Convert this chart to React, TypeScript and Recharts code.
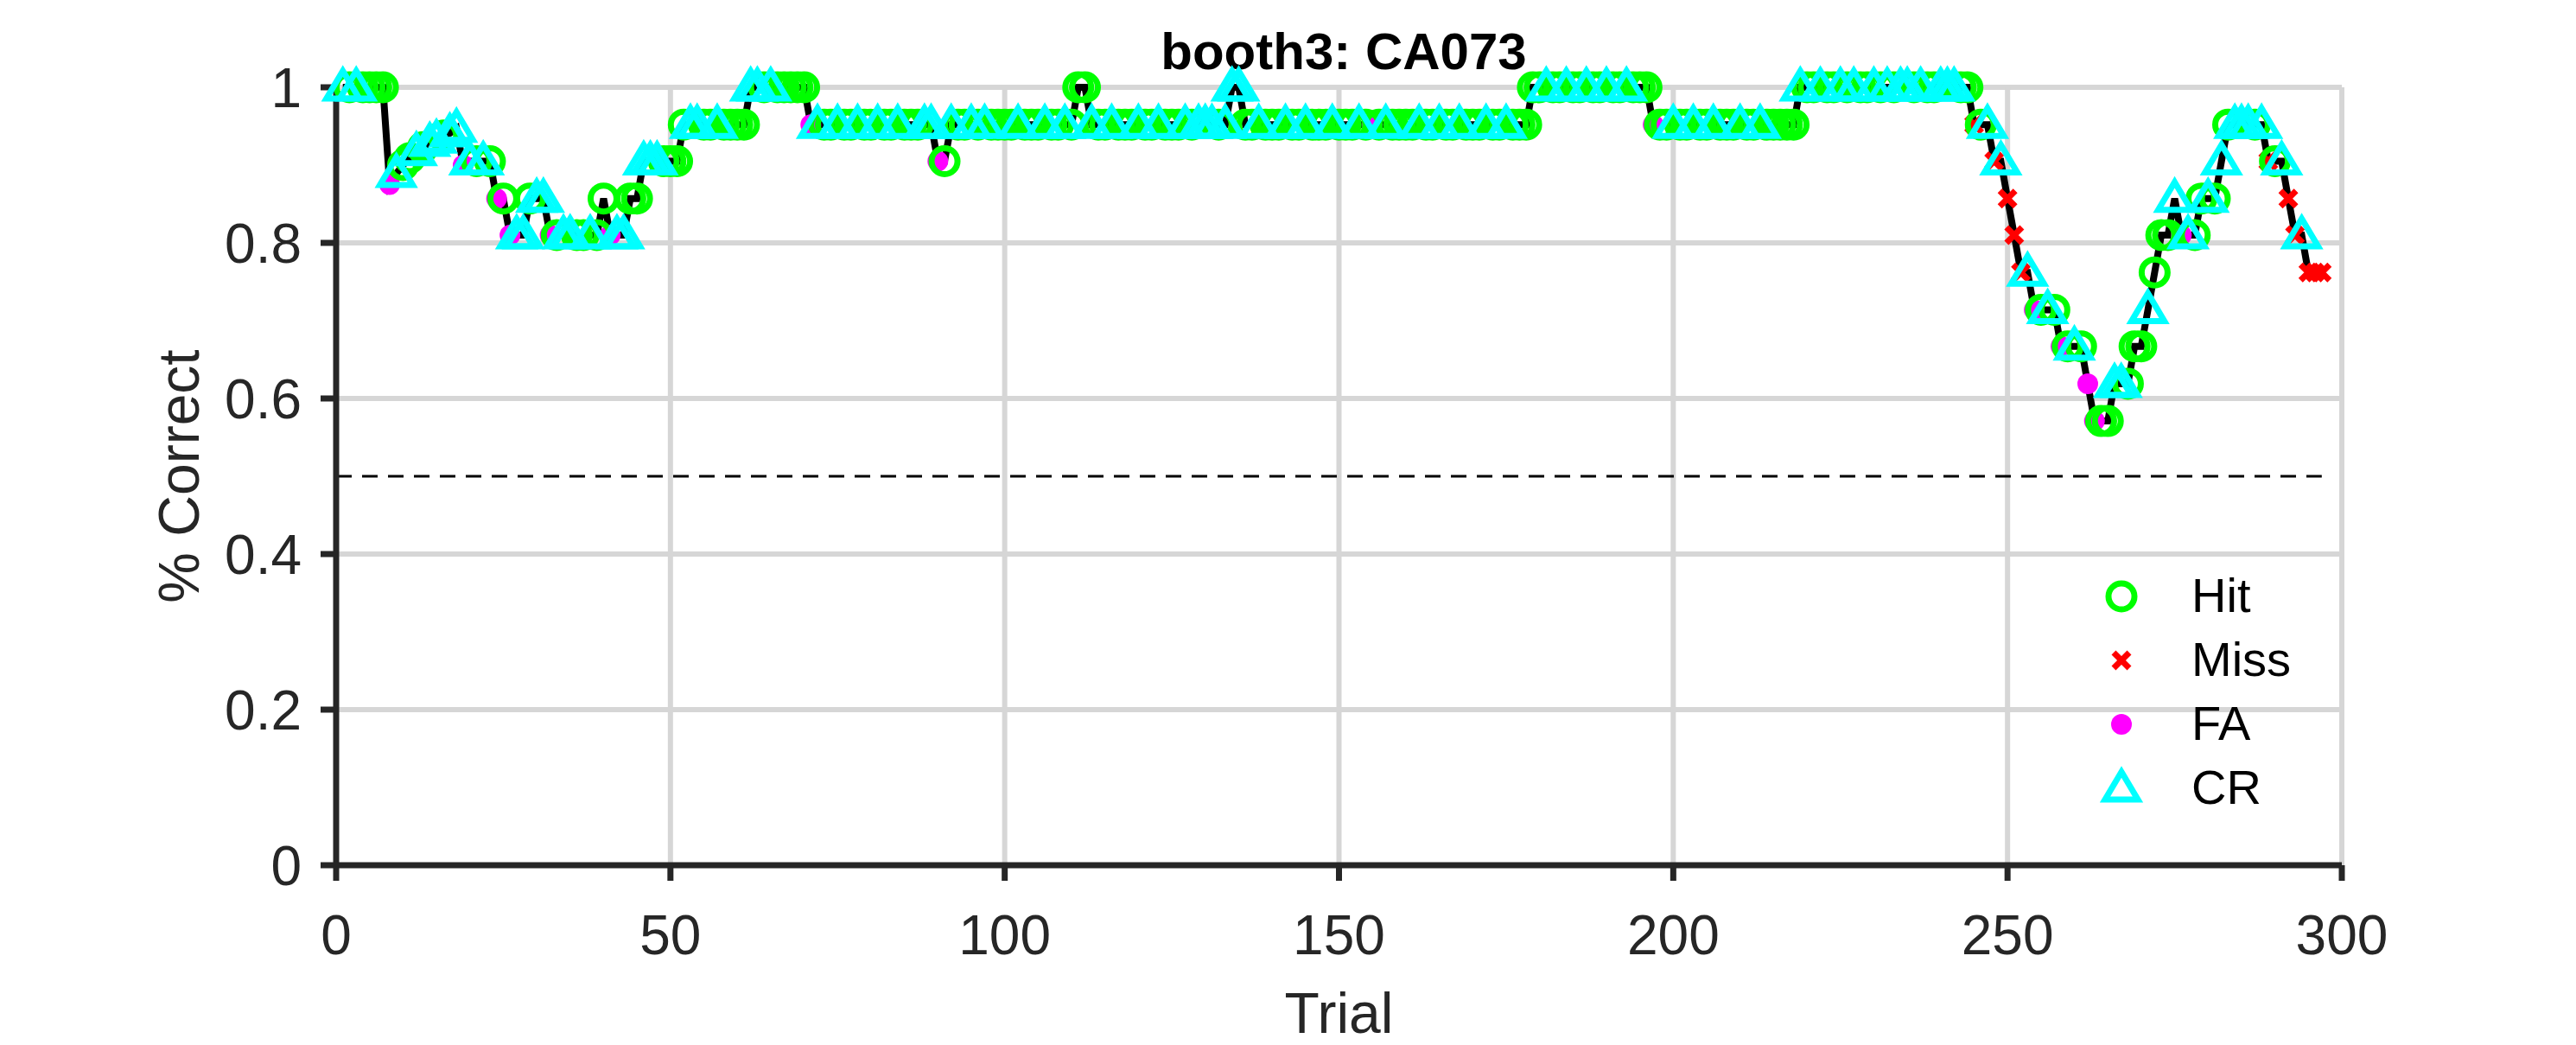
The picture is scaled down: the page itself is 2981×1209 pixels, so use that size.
import React from 'react'
import { ComposedChart, Line, XAxis, YAxis, CartesianGrid, ReferenceLine } from 'recharts'

// running % correct, one value per trial (1..297)
const pctCorrect = [
  1, 1, 1, 1, 1, 1, 1, .875, .889, .9,
  .909, .917, .923, .929, .933, .938, .941, .947, .9, .905,
  .905, .905, .905, .857, .857, .81, .81, .81, .857, .857,
  .857, .81, .81, .81, .81, .81, .81, .81, .81, .857,
  .81, .81, .81, .857, .857, .905, .905, .905, .905, .905,
  .905, .952, .952, .952, .952, .952, .952, .952, .952, .952,
  .952, 1, 1, 1, 1, 1, 1, 1, 1, 1,
  .952, .952, .952, .952, .952, .952, .952, .952, .952, .952,
  .952, .952, .952, .952, .952, .952, .952, .952, .952, .905,
  .905, .952, .952, .952, .952, .952, .952, .952, .952, .952,
  .952, .952, .952, .952, .952, .952, .952, .952, .952, .952,
  1, 1, .952, .952, .952, .952, .952, .952, .952, .952,
  .952, .952, .952, .952, .952, .952, .952, .952, .952, .952,
  .952, .952, .952, 1, 1, .952, .952, .952, .952, .952,
  .952, .952, .952, .952, .952, .952, .952, .952, .952, .952,
  .952, .952, .952, .952, .952, .952, .952, .952, .952, .952,
  .952, .952, .952, .952, .952, .952, .952, .952, .952, .952,
  .952, .952, .952, .952, .952, .952, .952, .952, 1, 1,
  1, 1, 1, 1, 1, 1, 1, 1, 1, 1,
  1, 1, 1, 1, 1, 1, .952, .952, .952, .952,
  .952, .952, .952, .952, .952, .952, .952, .952, .952, .952,
  .952, .952, .952, .952, .952, .952, .952, .952, 1, 1,
  1, 1, 1, 1, 1, 1, 1, 1, 1, 1,
  1, 1, 1, 1, 1, 1, 1, 1, 1, 1,
  1, 1, 1, 1, .952, .952, .952, .905, .905, .857,
  .81, .762, .762, .714, .714, .714, .714, .667, .667, .667,
  .667, .619, .571, .571, .571, .619, .619, .619, .667, .667,
  .714, .762, .81, .81, .857, .81, .81, .81, .857, .857,
  .857, .905, .952, .952, .952, .952, .952, .952, .905, .905,
  .905, .857, .81, .81, .762, .762, .762,
]

// outcome per trial: H = hit, M = miss, F = false alarm, C = correct rejection
const outcomes = [
  'CHCHHHHFCH', 'HCHCCHCCFC', 'HCHFHFCCHC', 'CFHCCHHCHH', 'FCCHHCCCHH',
  'HHCCHHCHHH', 'HCCHCHHHHH', 'FCHHCHHCHH', 'CHHCHHHCCF', 'HCHHCHCHHH',
  'HCHHHCHHCH', 'HHCHHCHHHC', 'HHCHHHCHCC', 'CHCCCHHCHH', 'HCHHCHHHCH',
  'HHCHFHCHHH', 'HCHHCHHCHH', 'HCHHCHHHHH', 'CHHCHHCHHC', 'HHCHHHFHHC',
  'HHCHHCHHHC', 'HHCHHHHHCH', 'HCHHCHCHHC', 'HCHCCHCHHC', 'CCHHMHCMCM',
  'MMCFHCHFHC', 'HFFHHCCHHH', 'CHHHCFCHHC', 'HCHCCCHCMH', 'CMMCMMM',
].join('').split('')

const rows = pctCorrect.map((v, i) => {
  const t = outcomes[i]
  return {
    trial: i + 1, pct: v,
    hit: t === 'H' ? v : null, miss: t === 'M' ? v : null,
    fa: t === 'F' ? v : null, cr: t === 'C' ? v : null,
  }
})

const xTicks = [0, 50, 100, 150, 200, 250, 300]
const yTicks = [0, 0.2, 0.4, 0.6, 0.8, 1]

const FONT = 'Liberation Sans, Arial, sans-serif'
const AX = '#262626'

function HitMark({ cx, cy }: { cx: number; cy: number }) {
  return <circle cx={cx} cy={cy} r={15} fill="none" stroke="#00ff00" strokeWidth={7} />
}
function MissMark({ cx, cy }: { cx: number; cy: number }) {
  const d = 9
  return <path d={`M${cx - d},${cy - d}L${cx + d},${cy + d}M${cx - d},${cy + d}L${cx + d},${cy - d}`} stroke="#ff0000" strokeWidth={7} />
}
function FaMark({ cx, cy }: { cx: number; cy: number }) {
  return <circle cx={cx} cy={cy} r={12} fill="#ff00ff" />
}
function CrMark({ cx, cy }: { cx: number; cy: number }) {
  return <path d={`M${cx},${cy - 19}L${cx + 19},${cy + 13}L${cx - 19},${cy + 13}Z`} fill="none" stroke="#00ffff" strokeWidth={7} strokeLinejoin="miter" />
}

const marks: Record<string, any> = { hit: HitMark, miss: MissMark, fa: FaMark, cr: CrMark }

const dotFor = (key: string) => (p: any) => {
  if (p.value == null || p.cy == null) return <g key={p.index} />
  const M = marks[key]
  return <M key={p.index} cx={p.cx} cy={p.cy} />
}

const legendItems = [
  { key: 'hit', label: 'Hit' },
  { key: 'miss', label: 'Miss' },
  { key: 'fa', label: 'FA' },
  { key: 'cr', label: 'CR' },
]

export default function App() {
  return (
    <div style={{ position: 'relative', width: 2965, height: 1193, background: '#fff', fontFamily: FONT }}>
      <ComposedChart width={2965} height={1193} data={rows} margin={{ top: 93, right: 263, left: 261, bottom: 0 }}>
        <CartesianGrid stroke="#d6d6d6" strokeWidth={6} vertical horizontal />
        <XAxis dataKey="trial" type="number" domain={[0, 300]} ticks={xTicks} height={200}
          stroke={AX} strokeWidth={7} tickSize={18} tickLine={{ stroke: AX, strokeWidth: 7 }}
          tick={{ fontSize: 64, fill: AX, fontFamily: FONT, dy: 38 }}
          label={{ value: 'Trial', position: 'insideBottom', offset: 6, fontSize: 66, fill: AX, fontFamily: FONT }} />
        <YAxis type="number" domain={[0, 1]} ticks={yTicks} width={120}
          stroke={AX} strokeWidth={7} tickSize={18} tickLine={{ stroke: AX, strokeWidth: 7 }}
          tick={{ fontSize: 64, fill: AX, fontFamily: FONT, dx: -20 }}
          label={{ value: '% Correct', angle: -90, position: 'insideLeft', offset: -62, fontSize: 66, fill: AX, fontFamily: FONT, style: { textAnchor: 'middle' } }} />
        <ReferenceLine segment={[{ x: 0, y: 0.5 }, { x: 297, y: 0.5 }]} stroke="#000" strokeWidth={3} strokeDasharray="18 12" />
        <Line dataKey="pct" stroke="#000" strokeWidth={8} dot={false} isAnimationActive={false} />
        {['fa', 'miss', 'hit', 'cr'].map(k => (
          <Line key={k} dataKey={k} stroke="none" strokeWidth={0} dot={dotFor(k)} activeDot={false} isAnimationActive={false} />
        ))}
        <text x={1547} y={72} textAnchor="middle" fontSize={60} fontWeight="bold" fill="#000" fontFamily={FONT}>booth3: CA073</text>
      </ComposedChart>
      {legendItems.map((it, i) => {
        const M = marks[it.key]
        return (
          <div key={it.key} style={{ position: 'absolute', left: 2410, top: 650 + i * 74, height: 60, display: 'flex', alignItems: 'center' }}>
            <svg width={70} height={60}><M cx={37} cy={32} /></svg>
            <span style={{ marginLeft: 48, fontSize: 56, color: '#000' }}>{it.label}</span>
          </div>
        )
      })}
    </div>
  )
}
